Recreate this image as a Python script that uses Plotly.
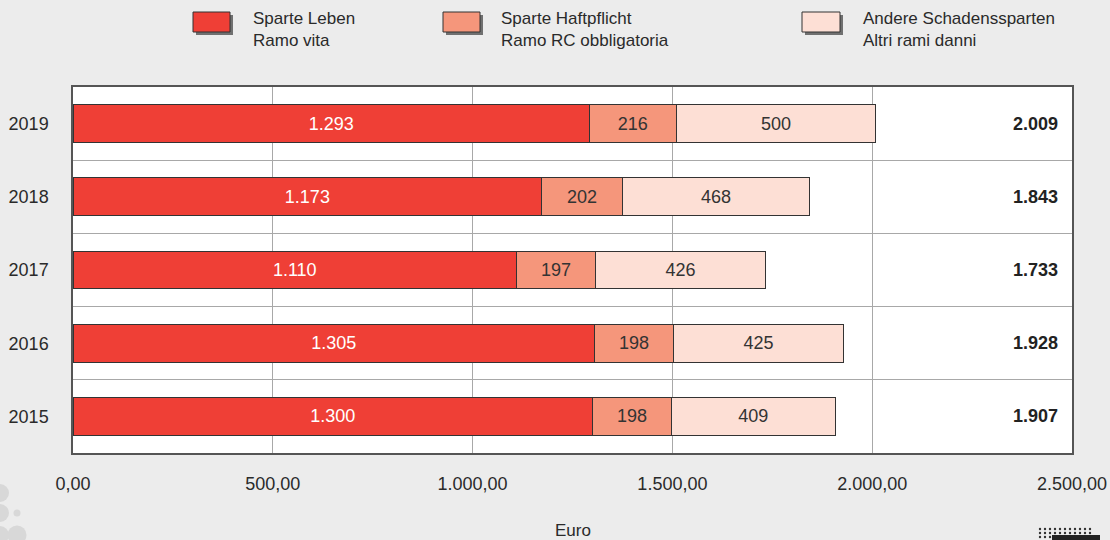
import plotly.graph_objects as go

# ---- data ----
years = ["2015", "2016", "2017", "2018", "2019"]
leben = [1300, 1305, 1110, 1173, 1293]
haftpflicht = [198, 198, 197, 202, 216]
andere = [409, 425, 426, 468, 500]
totals = [1907, 1928, 1733, 1843, 2009]
series_names = [
    "Sparte Leben<br>Ramo vita",
    "Sparte Haftpflicht<br>Ramo RC obbligatoria",
    "Andere Schadenssparten<br>Altri rami danni",
]
x_ticks = [0, 500, 1000, 1500, 2000, 2500]

# ---- style ----
W, H = 1110, 540
ML, MR, MT, MB = 73, 38, 87, 87
colors = ["#EF3F36", "#F5967B", "#FDDFD5"]
text_colors = ["#FFFFFF", "#333333", "#333333"]
FONT = "Liberation Sans, Arial, sans-serif"
BG = "#ECECEC"


def px(x):
    return (x - ML) / (W - ML - MR)


def py(y):
    return (H - MB - y) / (H - MT - MB)


fig = go.Figure()
for vals, name, col, tcol in zip([leben, haftpflicht, andere], series_names, colors, text_colors):
    fig.add_trace(go.Bar(
        y=years, x=vals, orientation="h", name=name,
        marker=dict(color=col, line=dict(color="#333333", width=1)),
        width=0.515,
        text=vals, texttemplate="%{x:,.0f}", textposition="inside",
        insidetextanchor="middle", constraintext="none",
        textfont=dict(color=tcol, size=18, family=FONT),
        showlegend=False, hoverinfo="skip",
    ))

annotations = []
for i, t in enumerate(totals):
    annotations.append(dict(
        x=2470, y=i, xref="x", yref="y", xanchor="right", yanchor="middle",
        text="<b>" + f"{t:,}".replace(",", ".") + "</b>", showarrow=False,
        font=dict(size=18, color="#222222", family=FONT),
    ))

shapes = []
# manual legend
legend_boxes = [(193, 230), (443, 480), (802, 840)]
legend_text_x = [251, 499, 861]
for (x0, x1), tx, col, name in zip(legend_boxes, legend_text_x, colors, series_names):
    shapes.append(dict(type="rect", xref="paper", yref="paper",
                       x0=px(x0 + 3), x1=px(x1 + 3), y0=py(35), y1=py(15),
                       fillcolor="#707070", line=dict(width=0), layer="above"))
    shapes.append(dict(type="rect", xref="paper", yref="paper",
                       x0=px(x0), x1=px(x1), y0=py(32), y1=py(12),
                       fillcolor=col, line=dict(color="#333333", width=1), layer="above"))
    annotations.append(dict(
        x=px(tx), y=py(30), xref="paper", yref="paper", xanchor="left", yanchor="middle",
        text=name, align="left", showarrow=False,
        font=dict(size=17, color="#2A2A2A", family=FONT),
    ))

# axis title
annotations.append(dict(
    x=0.5, y=py(530), xref="paper", yref="paper", xanchor="center", yanchor="middle",
    text="Euro", showarrow=False, font=dict(size=17, color="#2A2A2A", family=FONT),
))

# decorative circles bottom-left
for cx, cy, r in [(0, 493, 9), (0, 513, 9), (17, 513, 3.5), (17, 535, 9.5), (0, 535, 9)]:
    shapes.append(dict(type="circle", xref="paper", yref="paper",
                       x0=px(cx - r), x1=px(cx + r), y0=py(cy + r), y1=py(cy - r),
                       fillcolor="#D8D8D8", line=dict(width=0)))
# decorative dots bottom-right
for row in range(3):
    for col in range(11):
        cx = 1040 + col * 5
        cy = 529 + row * 4
        shapes.append(dict(type="circle", xref="paper", yref="paper",
                           x0=px(cx - 1.2), x1=px(cx + 1.2), y0=py(cy + 1.2), y1=py(cy - 1.2),
                           fillcolor="#333333", line=dict(width=0)))
shapes.append(dict(type="rect", xref="paper", yref="paper",
                   x0=px(1052), x1=px(1100), y0=py(541), y1=py(535),
                   fillcolor="#222222", line=dict(width=0)))

fig.update_layout(
    width=W, height=H,
    margin=dict(l=ML, r=MR, t=MT, b=MB, autoexpand=False),
    paper_bgcolor=BG, plot_bgcolor="#FFFFFF",
    barmode="stack", separators=",.",
    font=dict(family=FONT, size=18, color="#2A2A2A"),
    annotations=annotations, shapes=shapes,
    showlegend=False,
)
fig.update_xaxes(
    range=[0, 2500], tickvals=x_ticks, tickformat=",.2f",
    showgrid=True, gridcolor="#A8A8A8", gridwidth=1, zeroline=False,
    showline=True, mirror=True, linecolor="#555555", linewidth=1.5,
    ticks="", ticklabelstandoff=14,
    tickfont=dict(size=18, color="#2A2A2A", family=FONT),
)
fig.update_yaxes(
    type="category", categoryorder="array", categoryarray=years,
    range=[-0.5, 4.5],
    tickson="boundaries", showgrid=True, gridcolor="#A8A8A8", gridwidth=1,
    showline=True, mirror=True, linecolor="#555555", linewidth=1.5,
    ticks="", ticklabelstandoff=19,
    tickfont=dict(size=18, color="#2A2A2A", family=FONT),
)

fig.write_html(
    "out.html",
    config={"displayModeBar": False},
    post_script="document.body.style.margin='0';document.body.style.overflow='hidden';",
)
